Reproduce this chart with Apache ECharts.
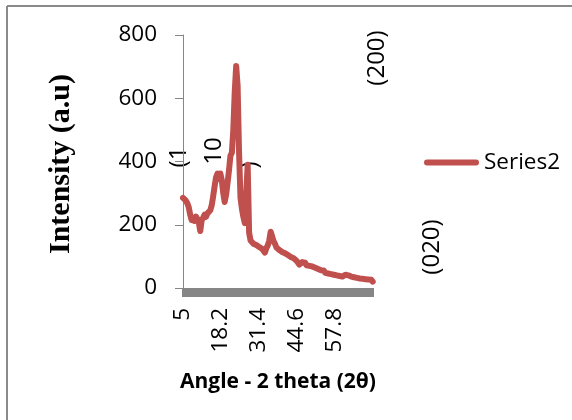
<!DOCTYPE html>
<html>
<head>
<meta charset="utf-8">
<script src="https://cdn.jsdelivr.net/npm/echarts@6/dist/echarts.min.js"></script>
<style>
html,body{margin:0;padding:0;background:#fff;}
#chart{width:572px;height:420px;}
</style>
</head>
<body>
<div id="chart"></div>
<script>
const seriesName = 'Series2';
const xTitle = 'Angle - 2 theta (2θ)';
const yTitle = 'Intensity (a.u)';
const xTickLabels = [5, 18.2, 31.4, 44.6, 57.8];
const yTicks = [0, 200, 400, 600, 800];
const angles = [
 5.0,5.5,6.0,6.5,7.0,7.5,8.0,8.5,9.0,9.5,10.0,10.5,11.0,11.5,12.0,12.5,13.0,13.5,14.0,14.5,
 15.0,15.5,16.0,16.5,17.0,17.5,18.0,18.5,19.0,19.5,20.0,20.5,21.0,21.5,22.0,22.5,23.0,23.5,24.0,24.5,
 25.0,25.5,26.0,26.5,27.0,27.5,28.0,28.5,29.0,29.5,30.0,30.5,31.0,31.5,32.0,32.5,33.0,33.5,34.0,34.5,
 35.0,35.5,36.0,36.5,37.0,37.5,38.0,38.5,39.0,39.5,40.0,40.5,41.0,41.5,42.0,42.5,43.0,43.5,44.0,44.5,
 45.0,45.5,46.0,46.5,47.0,47.5,48.0,48.5,49.0,49.5,50.0,50.5,51.0,51.5,52.0,52.5,53.0,53.5,54.0,54.5,
 55.0,55.5,56.0,56.5,57.0,57.5,58.0,58.5,59.0,59.5,60.0,60.5,61.0,61.5,62.0,62.5,63.0,63.5,64.0,64.5,
 65.0,65.5,66.0,66.5,67.0,67.5,68.0,68.5,69.0,69.5,70.0,70.5,71.0
];
const intensity = [
 285,280,276,268,255,232,215,222,212,226,218,208,180,215,222,232,225,236,230,246,
 262,290,322,350,362,345,362,340,300,272,295,332,372,418,428,500,620,702,640,430,
 285,250,225,205,300,390,175,150,146,140,146,136,140,130,134,124,120,112,126,135,
 150,178,182,148,140,128,132,120,122,114,118,110,112,104,106,98,100,94,90,86,
 88,74,78,82,76,80,72,74,70,76,68,72,64,66,60,62,56,52,55,48,
 50,46,48,44,46,42,44,40,42,38,40,36,38,42,46,40,34,36,32,34,
 30,32,28,30,27,29,26,28,25,27,24,26,20
];
const peakLabels = [
 {text:'(200)', x:377, y:58},
 {text:'(020)', x:432, y:247},
 {text:'(1', x:179, y:157},
 {text:'10', x:214, y:151},
 {text:')', x:250, y:165}
];

const chart = echarts.init(document.getElementById('chart'), null, {renderer:'canvas'});
const data = angles.map((a, i) => [a, intensity[i]]);
const axisGray = '#868686';
const font = '"Open Sans", sans-serif';
const lineColor = '#C0504D';

chart.setOption({
  animation: false,
  backgroundColor: '#ffffff',
  grid: {left: 183, top: 35, width: 190, height: 253, containLabel: false},
  legend: {
    data: [{name: seriesName, icon: 'path://M3,0 L52,0 A3,3 0 0 1 52,6 L3,6 A3,3 0 0 1 3,0 Z'}],
    left: 419, top: 146,
    itemWidth: 55, itemHeight: 6,
    itemStyle: {color: lineColor},
    textStyle: {fontFamily: font, fontSize: 22.5, color: '#000'}
  },
  xAxis: {
    type: 'value', min: 5, max: 71.1,
    name: xTitle, nameLocation: 'middle', nameGap: 84,
    nameTextStyle: {fontFamily: font, fontSize: 21, fontWeight: 'bold', color: '#000'},
    axisLine: {show: true, lineStyle: {color: axisGray, width: 1}},
    axisTick: {show: true, customValues: angles, length: 9, lineStyle: {color: axisGray, width: 2}},
    axisLabel: {customValues: xTickLabels, rotate: 90, margin: 20, fontFamily: font, fontSize: 22.5, color: '#000'},
    splitLine: {show: false}
  },
  yAxis: {
    type: 'value', min: 0, max: 800, interval: 200,
    axisLine: {show: true, lineStyle: {color: axisGray, width: 1}},
    axisTick: {show: true, length: 8, lineStyle: {color: axisGray}},
    axisLabel: {margin: 26, fontFamily: font, fontSize: 22.5, color: '#000'},
    splitLine: {show: false}
  },
  series: [{
    name: seriesName, type: 'line', data: data,
    showSymbol: false, symbol: 'none',
    lineStyle: {color: lineColor, width: 6, cap: 'round', join: 'round'},
    itemStyle: {color: lineColor}
  }],
  graphic: [
    {type:'line', shape:{x1:7, y1:6, x2:572, y2:6}, style:{stroke:'#8a8a8a', lineWidth:2}},
    {type:'line', shape:{x1:7, y1:6, x2:7, y2:420}, style:{stroke:'#8a8a8a', lineWidth:2}},
    {type:'text', x:61, y:164, rotation:Math.PI/2,
      style:{text:yTitle, font:'bold 30px "Liberation Serif", serif', fill:'#000', align:'center', verticalAlign:'middle'}}
  ].concat(peakLabels.map(p => ({
    type:'text', x:p.x, y:p.y, rotation:Math.PI/2,
    style:{text:p.text, font:'24px "Open Sans", sans-serif', fill:'#000', align:'center', verticalAlign:'middle'}
  })))
});
</script>
</body>
</html>
